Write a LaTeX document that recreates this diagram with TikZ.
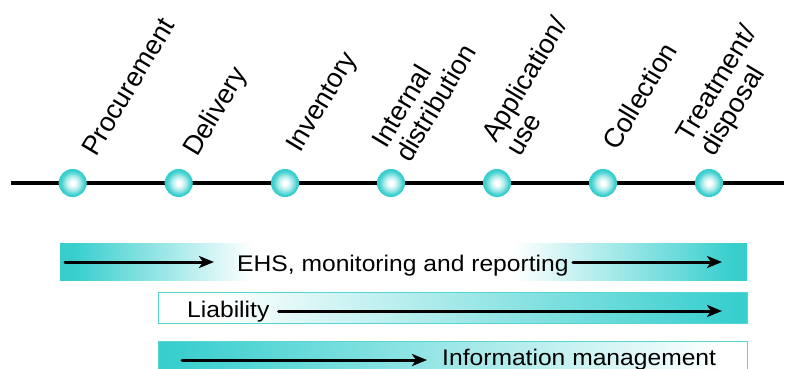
\documentclass[tikz,border=0pt]{standalone}
\usepackage{fontspec}
\setmainfont{Liberation Sans}
\usetikzlibrary{arrows.meta}
\definecolor{tl}{RGB}{56,206,206}
\pgfdeclareradialshading{ballshade}{\pgfpointorigin}{color(0bp)=(white); color(4bp)=(white); color(14bp)=(tl!45); color(21bp)=(tl!90); color(25bp)=(tl); color(50bp)=(tl)}
\pgfdeclarehorizontalshading{barA}{100bp}{color(0bp)=(tl); color(26bp)=(tl); color(39bp)=(white); color(58bp)=(white); color(74bp)=(tl); color(100bp)=(tl)}
\pgfdeclarehorizontalshading{barB}{100bp}{color(0bp)=(white); color(30bp)=(white); color(74bp)=(tl); color(100bp)=(tl)}
\pgfdeclarehorizontalshading{barC}{100bp}{color(0bp)=(tl); color(26bp)=(tl); color(73bp)=(white); color(100bp)=(white)}
\tikzset{
  ball/.style={circle, minimum size=26.5pt, inner sep=0pt, draw=tl, line width=1.6pt, shading=ballshade},
  stage/.style={rotate=59, anchor=base west, inner sep=0pt, font=\fontsize{27}{27.5}\selectfont},
  bartext/.style={xscale=1.09, anchor=base west, inner sep=0pt, font=\fontsize{22.6}{28}\selectfont},
  flow/.style={line width=3pt, line cap=round, -{Stealth[length=15pt,width=12pt,inset=4pt]}},
  barframe/.style={draw=tl!85, line width=0.8pt}
}
\newcommand{\twoline}[2]{\begin{tabular}[b]{@{}l@{}}#1\\#2\end{tabular}}
\begin{document}
\begin{tikzpicture}[x=1pt,y=-1pt]
\useasboundingbox (0,0) rectangle (785,368);
\clip (0,0) rectangle (785,368);
% timeline
\coordinate (tlL) at (11,183);
\coordinate (tlR) at (784,183);
\draw[line width=4pt] (tlL) -- (tlR);
\node[ball] (c1) at (72.7,183) {};
\node[ball] (c2) at (178.7,183) {};
\node[ball] (c3) at (285,183) {};
\node[ball] (c4) at (391,183) {};
\node[ball] (c5) at (497,183) {};
\node[ball] (c6) at (603,183) {};
\node[ball] (c7) at (709,183) {};
% labels
\node[stage] (l1) at (96,158) {Procurement};
\node[stage] (l2) at (197,158) {Delivery};
\node[stage] (l3) at (300,154) {Inventory};
\node[stage] (l4) at (410,164) {\twoline{Internal}{distribution}};
\node[stage] (l5) at (520,158) {\twoline{Application/}{use}};
\node[stage] (l6) at (617,152) {Collection};
\node[stage] (l7) at (714,158) {\twoline{Treatment/}{disposal}};
% bars
\path[shading=barA] (60,243) rectangle (747,280);
\path[shading=barB, barframe] (158,292) rectangle (747,323);
\path[shading=barC, barframe] (158,341) rectangle (747,373);
% bar texts
\node[bartext] (ehs) at (237,271) {EHS, monitoring and reporting};
\node[bartext] (liab) at (187,317) {Liability};
\node[bartext] (info) at (442,365.5) {Information management};
% arrows
\coordinate (a1s) at (65,262);
\coordinate (a1e) at (214,262);
\coordinate (a2e) at (722,262);
\coordinate (a3e) at (722,311);
\coordinate (a4s) at (182,360);
\coordinate (a4e) at (427,360);
\draw[flow] (a1s) -- (a1e);
\draw[flow] (ehs.east |- a2e) ++(4,0) -- (a2e);
\draw[flow] (liab.east |- a3e) ++(9,0) -- (a3e);
\draw[flow] (a4s) -- (a4e);
\end{tikzpicture}
\end{document}
